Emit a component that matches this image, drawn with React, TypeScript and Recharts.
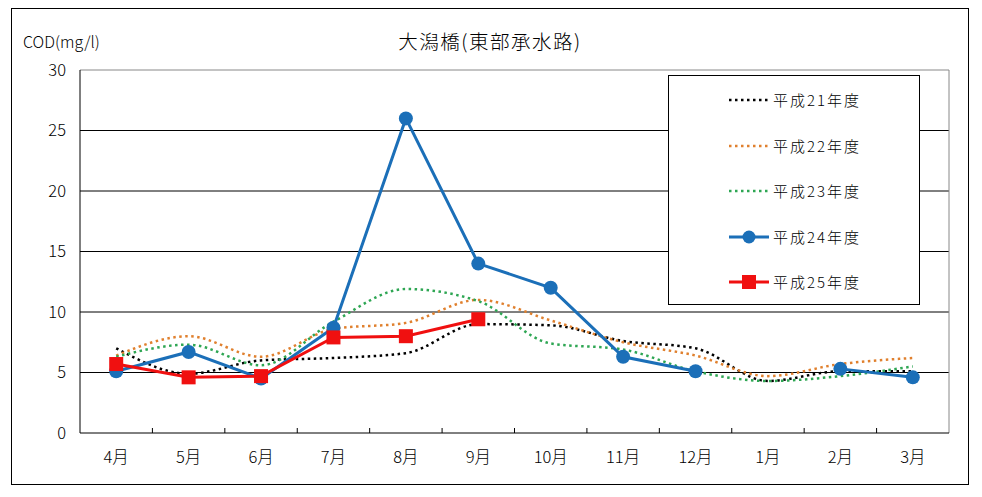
import {
  CartesianGrid,
  Line,
  LineChart,
  ReferenceLine,
  XAxis,
  YAxis,
} from "recharts";

const months = ["4月", "5月", "6月", "7月", "8月", "9月", "10月", "11月", "12月", "1月", "2月", "3月"];
const h21 = [7.0, 4.9, 6.0, 6.2, 6.6, 9.0, 8.9, 7.6, 7.0, 4.3, 5.1, 5.1];
const h22 = [6.4, 8.0, 6.3, 8.6, 9.1, 11.0, 9.3, 7.5, 6.4, 4.7, 5.7, 6.2];
const h23 = [6.3, 7.3, 5.6, 9.2, 11.9, 10.9, 7.4, 6.9, 5.1, 4.3, 4.7, 5.5];
const h24 = [5.1, 6.7, 4.5, 8.7, 26.0, 14.0, 12.0, 6.3, 5.1, null, 5.3, 4.6];
const h25 = [5.7, 4.6, 4.7, 7.9, 8.0, 9.4, null, null, null, null, null, null];
const yTicks = [0, 5, 10, 15, 20, 25, 30];

const seriesNames = ["平成21年度", "平成22年度", "平成23年度", "平成24年度", "平成25年度"];

const data = months.map((m, i) => ({
  idx: i,
  month: m,
  h21: h21[i],
  h22: h22[i],
  h23: h23[i],
  h24: h24[i],
  h25: h25[i],
}));

const FONT = '"Noto Sans CJK JP", "Noto Sans", sans-serif';
const W = 956;
const H = 475;
const margin = { top: 61, right: 19, left: 0, bottom: 11 };
const Y_W = 68;
const BAND = (W - Y_W - margin.right) / months.length;

const BLACK = "#000000";
const ORANGE = "#E0802E";
const GREEN = "#2EA653";
const BLUE = "#1B6FB8";
const RED = "#F01010";
const DOTS = "2.5 3.5";

const MonthTick = (props: any) => {
  const { x, y, payload } = props;
  return (
    <g>
      <text
        x={x}
        y={y + 23}
        textAnchor="middle"
        dominantBaseline="central"
        fontSize={16.5}
        fontWeight={300}
        fontFamily={FONT}
        fill="#000"
      >
        {months[payload.value]}
      </text>
      {payload.value < months.length - 1 && (
        <line x1={x + BAND / 2} x2={x + BAND / 2} y1={y} y2={y - 5} stroke="#000" strokeWidth={1} />
      )}
    </g>
  );
};

const SquareDot = (props: any) => {
  const { cx, cy } = props;
  if (cx == null || cy == null) return null;
  return <rect x={cx - 7} y={cy - 7} width={14} height={14} fill={RED} />;
};

const legendItems = [
  { name: seriesNames[0], color: BLACK, dash: DOTS, width: 2.5, marker: "" },
  { name: seriesNames[1], color: ORANGE, dash: DOTS, width: 2.5, marker: "" },
  { name: seriesNames[2], color: GREEN, dash: DOTS, width: 2.5, marker: "" },
  { name: seriesNames[3], color: BLUE, dash: undefined, width: 3, marker: "circle" },
  { name: seriesNames[4], color: RED, dash: undefined, width: 3, marker: "square" },
];

const LegendBox = () => (
  <div
    style={{
      position: "absolute",
      left: 656,
      top: 66,
      width: 252,
      height: 230,
      border: "1px solid #000",
      boxSizing: "border-box",
      background: "#fff",
    }}
  >
    {legendItems.map((it, i) => (
      <div
        key={it.name}
        style={{ position: "absolute", left: 0, top: 24 + i * 45.6 - 12, height: 24, width: 250 }}
      >
        <svg width={44} height={24} style={{ position: "absolute", left: 58, top: 0 }}>
          <line
            x1={2}
            x2={42}
            y1={12}
            y2={12}
            stroke={it.color}
            strokeWidth={it.width}
            strokeDasharray={it.dash}
          />
          {it.marker === "circle" && <circle cx={22} cy={12} r={6.5} fill={it.color} />}
          {it.marker === "square" && <rect x={15} y={5} width={14} height={14} fill={it.color} />}
        </svg>
        <span
          style={{
            position: "absolute",
            left: 104,
            top: 0,
            lineHeight: "24px",
            fontSize: 15,
            fontWeight: 300,
            fontFamily: FONT,
            letterSpacing: 2,
          }}
        >
          {it.name}
        </span>
      </div>
    ))}
  </div>
);

const App = () => {
  return (
    <div
      style={{
        position: "relative",
        marginLeft: 3,
        width: 958,
        height: 477,
        border: "1px solid #000",
        boxSizing: "border-box",
        fontFamily: FONT,
        fontWeight: 300,
        background: "#fff",
      }}
    >
      <div
        style={{
          position: "absolute",
          left: 0,
          width: W,
          top: 19,
          textAlign: "center",
          fontSize: 19.5,
          lineHeight: "26px",
          letterSpacing: 1.5,
        }}
      >
        大潟橋(東部承水路)
      </div>
      <div
        style={{
          position: "absolute",
          left: 11,
          top: 20,
          fontSize: 16,
          lineHeight: "24px",
        }}
      >
        COD(mg/l)
      </div>
      <LineChart width={W} height={H} data={data} margin={margin}>
        <CartesianGrid
          horizontal={true}
          vertical={false}
          stroke="#000"
          strokeOpacity={1}
          horizontalValues={[5, 10, 15, 20, 25]}
        />
        <XAxis
          dataKey="idx"
          type="number"
          domain={[-0.5, months.length - 0.5]}
          ticks={months.map((_, i) => i)}
          interval={0}
          height={40}
          axisLine={{ stroke: "#000" }}
          tickLine={false}
          tickSize={0}
          tickMargin={0}
          tick={<MonthTick />}
        />
        <YAxis
          type="number"
          domain={[0, 30]}
          ticks={yTicks}
          interval={0}
          width={Y_W}
          axisLine={{ stroke: "#000" }}
          tickLine={false}
          tickSize={0}
          tickMargin={14}
          tick={{ fill: "#000", fontSize: 16.5, fontWeight: 300, fontFamily: FONT }}
        />
        <ReferenceLine y={30} stroke="#888" strokeWidth={1} />
        <ReferenceLine x={months.length - 0.5} stroke="#888" strokeWidth={1} />
        <Line
          type="monotone"
          dataKey="h21"
          name={seriesNames[0]}
          stroke={BLACK}
          strokeWidth={2.5}
          strokeDasharray={DOTS}
          dot={false}
          isAnimationActive={false}
        />
        <Line
          type="monotone"
          dataKey="h22"
          name={seriesNames[1]}
          stroke={ORANGE}
          strokeWidth={2.5}
          strokeDasharray={DOTS}
          dot={false}
          isAnimationActive={false}
        />
        <Line
          type="monotone"
          dataKey="h23"
          name={seriesNames[2]}
          stroke={GREEN}
          strokeWidth={2.5}
          strokeDasharray={DOTS}
          dot={false}
          isAnimationActive={false}
        />
        <Line
          type="linear"
          dataKey="h24"
          name={seriesNames[3]}
          stroke={BLUE}
          strokeWidth={3}
          dot={{ r: 7, fill: BLUE, stroke: BLUE, strokeWidth: 0 }}
          isAnimationActive={false}
        />
        <Line
          type="linear"
          dataKey="h25"
          name={seriesNames[4]}
          stroke={RED}
          strokeWidth={3}
          dot={<SquareDot />}
          isAnimationActive={false}
        />
      </LineChart>
      <LegendBox />
    </div>
  );
};

export default App;
